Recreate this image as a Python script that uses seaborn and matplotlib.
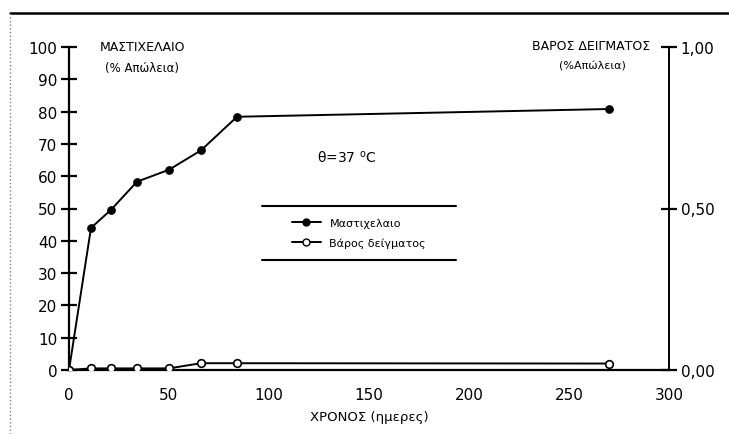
import pandas as pd
import matplotlib
matplotlib.use('Agg')
import matplotlib.pyplot as plt
import seaborn as sns
from matplotlib.lines import Line2D

sns.set_style('white')
plt.rcParams['font.family'] = ['DejaVu Sans']
plt.rcParams['text.color'] = 'black'
plt.rcParams['axes.labelcolor'] = 'black'
plt.rcParams['xtick.color'] = 'black'
plt.rcParams['ytick.color'] = 'black'

# data
days = [0, 11, 21, 34, 50, 66, 84, 270]
mastic_oil = [0, 44, 49.6, 58.3, 62, 68, 78.4, 80.8]          # % loss, left axis
sample_weight = [0, 0.005, 0.005, 0.005, 0.005, 0.021, 0.021, 0.02]  # % loss, right axis
x_ticks = [0, 50, 100, 150, 200, 250, 300]
left_ticks = list(range(0, 101, 10))
right_ticks = [0, 0.5, 1.0]
right_ticklabels = ['0,00', '0,50', '1,00']

df = pd.DataFrame({'days': days, 'oil': mastic_oil, 'weight': sample_weight})

fig = plt.figure(figsize=(7.29, 4.35), dpi=100)
ax = fig.add_axes([69/729, 64/435, 600/729, 323/435])

# Mastic oil loss
sns.lineplot(data=df, x='days', y='oil', ax=ax, color='black', linewidth=1.4,
             marker='o', markersize=5.5, markeredgecolor='black', legend=False)
ax.set_xlim(0, 300)
ax.set_ylim(0, 100)
ax.set_xticks(x_ticks)
ax.set_yticks(left_ticks)
ax.tick_params(axis='y', direction='inout', length=11, width=1.6, labelsize=11, pad=3)
ax.tick_params(axis='x', direction='inout', length=8, width=1.2, labelsize=11, pad=8)
for s in ['top', 'right']:
    ax.spines[s].set_visible(False)
for s in ['left', 'bottom']:
    ax.spines[s].set_linewidth(1.6)
    ax.spines[s].set_color('black')
ax.set_xlabel('ΧΡΟΝΟΣ (ημερες)', fontsize=9.5, labelpad=6)
ax.set_ylabel('')

# Sample weight loss on the right axis
ax2 = ax.twinx()
sns.lineplot(data=df, x='days', y='weight', ax=ax2, color='black', linewidth=1.4,
             marker='o', markersize=5.5, markerfacecolor='white',
             markeredgecolor='black', markeredgewidth=1.2, legend=False)
ax2.set_ylim(0, 1)
ax2.set_yticks(right_ticks)
ax2.set_yticklabels(right_ticklabels)
ax2.tick_params(axis='y', direction='inout', length=11, width=1.6, labelsize=11, pad=3)
ax2.set_ylabel('')
for s in ['top', 'left', 'bottom']:
    ax2.spines[s].set_visible(False)
ax2.spines['right'].set_linewidth(1.4)
ax2.spines['right'].set_color('black')

# axis titles
ax.text(0.122, 1.003, 'ΜΑΣΤΙΧΕΛΑΙΟ', transform=ax.transAxes, ha='center', va='center', fontsize=9)
ax.text(0.122, 0.938, '(% Απώλεια)', transform=ax.transAxes, ha='center', va='center', fontsize=8.5)
ax.text(0.870, 1.006, 'ΒΑΡΟΣ ΔΕΙΓΜΑΤΟΣ', transform=ax.transAxes, ha='center', va='center', fontsize=9)
ax.text(0.873, 0.944, '(%Απώλεια)', transform=ax.transAxes, ha='center', va='center', fontsize=8)

ax.text(139, 66, 'θ=37 $^{\\rm o}$C', ha='center', va='center', fontsize=10)

# legend
handles = [
    Line2D([], [], color='black', lw=1.4, marker='o', markersize=5),
    Line2D([], [], color='black', lw=1.4, marker='o', markersize=5, markerfacecolor='white'),
]
ax2.legend(handles, ['Μαστιχελαιο', 'Βάρος δείγματος'], loc='center',
           bbox_to_anchor=(0.483, 0.424), frameon=False, fontsize=8,
           handlelength=2.6, labelspacing=0.9)
for yy in [0.508, 0.341]:
    ax.plot([0.322, 0.645], [yy, yy], transform=ax.transAxes, color='black', lw=1.5, clip_on=False)

# outer frame of the scanned figure
fig.add_artist(Line2D([10/729, 1], [1 - 14/435, 1 - 14/435], transform=fig.transFigure, color='black', lw=1.8))
fig.add_artist(Line2D([10/729, 10/729], [0, 1 - 14/435], transform=fig.transFigure, color='gray', lw=1, ls=':'))

fig.savefig('out.png', dpi=100)
